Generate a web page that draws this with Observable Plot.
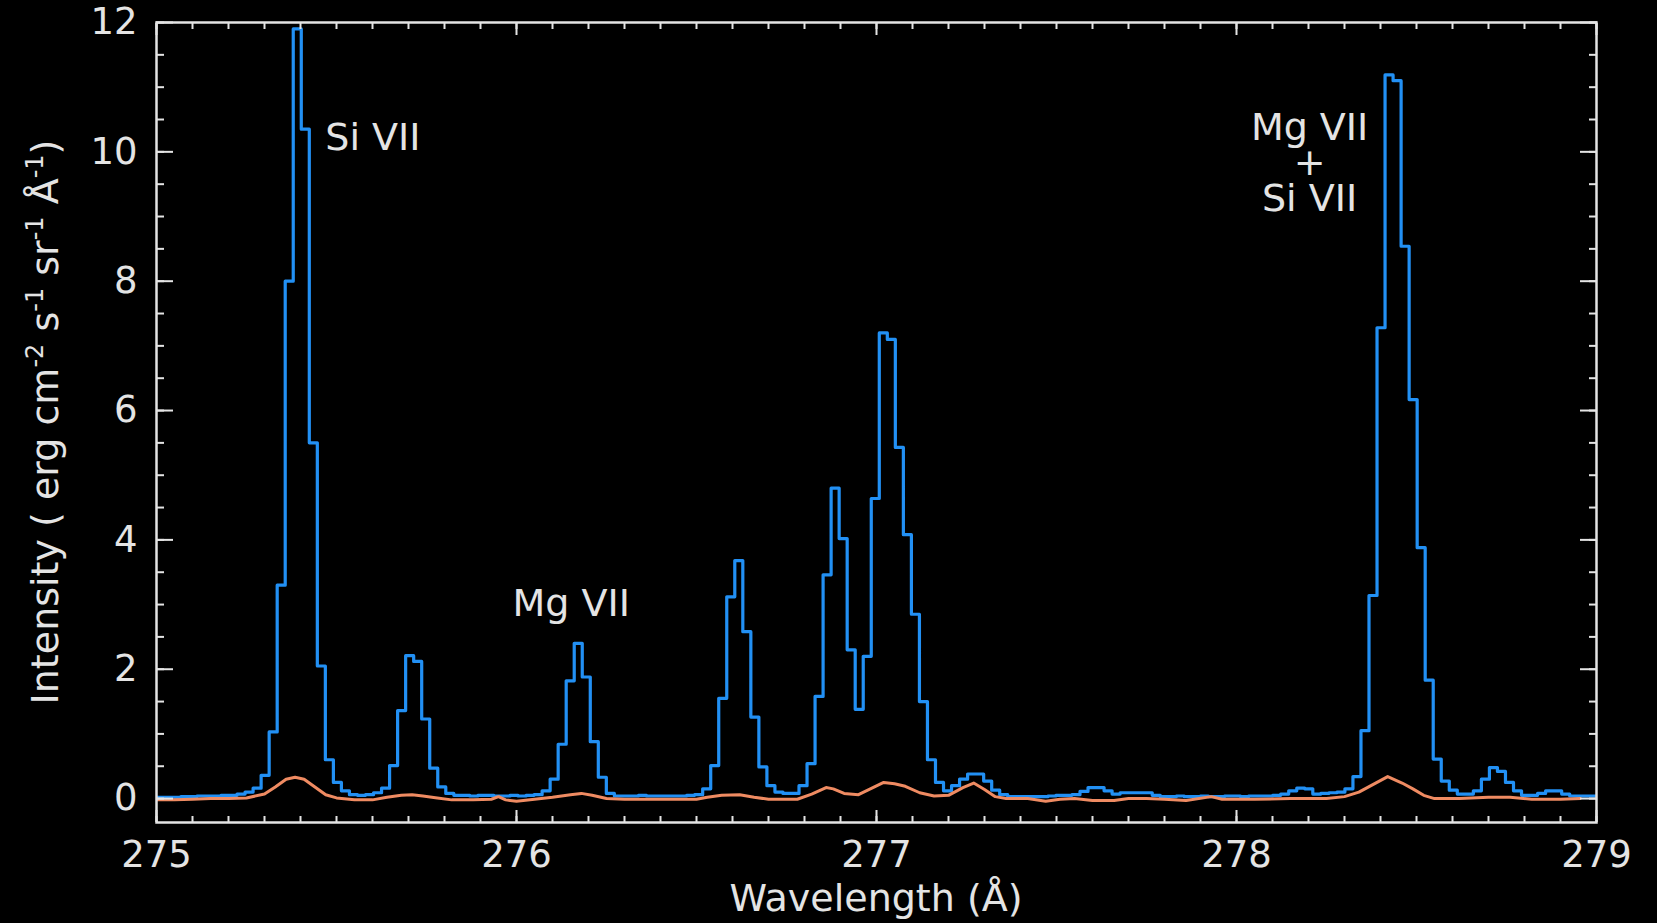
<!DOCTYPE html>
<html>
<head>
<meta charset="utf-8">
<script src="https://cdn.jsdelivr.net/npm/d3@7"></script>
<script src="https://cdn.jsdelivr.net/npm/@observablehq/plot@0.6"></script>
<style>
  html, body { margin: 0; padding: 0; background: #000; overflow: hidden; }
  #chart { width: 1657px; height: 923px; }
</style>
</head>
<body>
<div id="chart"></div>
<script>
// ---------- DATA ----------
// Spectral bin centres (Å)
const binWavelength = [
  274.9896,275.0119,275.0342,275.0565,275.0788,275.1011,275.1234,275.1457,275.1680,275.1903,
  275.2126,275.2349,275.2572,275.2795,275.3018,275.3241,275.3464,275.3687,275.3910,275.4133,
  275.4356,275.4579,275.4802,275.5025,275.5248,275.5471,275.5694,275.5917,275.6140,275.6363,
  275.6586,275.6809,275.7032,275.7255,275.7478,275.7701,275.7924,275.8147,275.8370,275.8593,
  275.8816,275.9039,275.9262,275.9485,275.9708,275.9931,276.0154,276.0377,276.0600,276.0823,
  276.1046,276.1269,276.1492,276.1715,276.1938,276.2161,276.2384,276.2607,276.2830,276.3053,
  276.3276,276.3499,276.3722,276.3945,276.4168,276.4391,276.4614,276.4837,276.5060,276.5283,
  276.5506,276.5729,276.5952,276.6175,276.6398,276.6621,276.6844,276.7067,276.7290,276.7513,
  276.7736,276.7959,276.8182,276.8405,276.8628,276.8851,276.9074,276.9297,276.9520,276.9743,
  276.9966,277.0189,277.0412,277.0635,277.0858,277.1081,277.1304,277.1527,277.1750,277.1973,
  277.2196,277.2419,277.2642,277.2865,277.3088,277.3311,277.3534,277.3757,277.3980,277.4203,
  277.4426,277.4649,277.4872,277.5095,277.5318,277.5541,277.5764,277.5987,277.6210,277.6433,
  277.6656,277.6879,277.7102,277.7325,277.7548,277.7771,277.7994,277.8217,277.8440,277.8663,
  277.8886,277.9109,277.9332,277.9555,277.9778,278.0001,278.0224,278.0447,278.0670,278.0893,
  278.1116,278.1339,278.1562,278.1785,278.2008,278.2231,278.2454,278.2677,278.2900,278.3123,
  278.3346,278.3569,278.3792,278.4015,278.4238,278.4461,278.4684,278.4907,278.5130,278.5353,
  278.5576,278.5799,278.6022,278.6245,278.6468,278.6691,278.6914,278.7137,278.7360,278.7583,
  278.7806,278.8029,278.8252,278.8475,278.8698,278.8921,278.9144,278.9367,278.9590,278.9813,
  279.0036
];
// Blue spectrum intensity per bin (erg cm^-2 s^-1 sr^-1 Å^-1)
const blueIntensity = [
  0.02,0.02,0.02,0.02,0.03,0.03,0.04,0.04,0.04,0.05,
  0.05,0.07,0.10,0.16,0.36,1.03,3.30,8.00,11.90,10.35,
  5.50,2.05,0.60,0.25,0.12,0.06,0.05,0.06,0.09,0.16,
  0.51,1.36,2.21,2.12,1.23,0.47,0.18,0.08,0.05,0.05,
  0.04,0.05,0.05,0.04,0.04,0.05,0.04,0.05,0.06,0.12,
  0.30,0.84,1.82,2.40,1.88,0.88,0.33,0.08,0.04,0.04,
  0.04,0.05,0.04,0.04,0.04,0.04,0.04,0.05,0.06,0.15,
  0.51,1.55,3.12,3.68,2.58,1.26,0.49,0.20,0.10,0.08,
  0.08,0.20,0.54,1.58,3.46,4.80,4.02,2.30,1.38,2.20,
  4.64,7.20,7.10,5.43,4.08,2.85,1.50,0.60,0.25,0.12,
  0.20,0.30,0.38,0.38,0.27,0.13,0.06,0.03,0.03,0.03,
  0.03,0.03,0.04,0.05,0.05,0.06,0.11,0.17,0.17,0.12,
  0.07,0.09,0.09,0.09,0.09,0.05,0.03,0.03,0.04,0.03,
  0.03,0.04,0.03,0.03,0.04,0.04,0.03,0.04,0.04,0.04,
  0.05,0.07,0.12,0.16,0.15,0.07,0.08,0.09,0.10,0.15,
  0.34,1.05,3.14,7.28,11.19,11.10,8.54,6.17,3.88,1.83,
  0.61,0.27,0.13,0.07,0.07,0.12,0.30,0.48,0.42,0.25,
  0.12,0.05,0.05,0.08,0.12,0.12,0.07,0.04,0.04,0.04,
  0.04
];
// Orange spectrum
const orangeWavelength = [
  274.99,275.05,275.10,275.15,275.20,275.25,275.30,275.33,275.36,275.385,
  275.41,275.44,275.47,275.50,275.55,275.60,275.64,275.68,275.71,275.74,
  275.78,275.82,275.88,275.93,275.95,275.97,276.00,276.05,276.10,276.15,
  276.18,276.21,276.25,276.30,276.40,276.50,276.53,276.57,276.62,276.66,
  276.70,276.78,276.82,276.86,276.88,276.91,276.95,276.99,277.02,277.05,
  277.08,277.12,277.16,277.20,277.24,277.27,277.30,277.33,277.36,277.42,
  277.47,277.51,277.55,277.60,277.66,277.70,277.75,277.80,277.86,277.93,
  277.96,278.05,278.15,278.25,278.30,278.34,278.38,278.42,278.46,278.49,
  278.52,278.55,278.62,278.70,278.76,278.82,278.90,278.955
];
const orangeIntensity = [
  -0.02,-0.02,-0.01,0.00,0.00,0.01,0.07,0.18,0.30,0.33,
  0.30,0.18,0.06,0.01,-0.02,-0.02,0.02,0.05,0.06,0.04,
  0.01,-0.02,-0.02,-0.01,0.03,-0.02,-0.04,-0.01,0.02,0.06,
  0.08,0.05,0.00,-0.01,-0.01,-0.01,0.02,0.05,0.06,0.02,
  -0.01,-0.01,0.07,0.17,0.15,0.08,0.06,0.17,0.25,0.23,
  0.19,0.09,0.04,0.05,0.17,0.24,0.14,0.03,0.00,0.00,
  -0.04,-0.01,0.00,-0.03,-0.03,0.00,0.00,-0.01,-0.03,0.03,
  -0.01,-0.01,0.00,0.00,0.03,0.10,0.22,0.34,0.24,0.15,
  0.05,0.00,0.00,0.02,0.02,-0.01,-0.01,0.00
];
// Line identifications (the blended line is one three-line label)
const lineLabels = ["Si VII", "Mg VII", "Mg VII\n+\nSi VII"];
const lineLabelWavelength = [275.469, 276.152, 278.203];
const lineLabelIntensity = [10.22, 3.0, 9.81];
const lineLabelAnchor = ["start", "middle", "middle"];
// Axes
const xTickLabels = [275, 276, 277, 278, 279];
const yTickLabels = [0, 2, 4, 6, 8, 10, 12];
const xMinorTicks = d3.range(275, 279.001, 0.1).map(v => +v.toFixed(1));
const yMinorTicks = d3.range(0, 12.001, 0.5);

// ---------- STYLE ----------
const BLUE = "#2290f4";
const ORANGE = "#ef8b62";
const INK = "#e4e4e4";
const FONT = "DejaVu Sans, sans-serif";
const FS_TICK = 37;
const FS_TEXT = 38;

const blueData = binWavelength.map((w, i) => ({w, v: blueIntensity[i]}));
const orangeData = orangeWavelength.map((w, i) => ({w, v: orangeIntensity[i]}));
const labelData = lineLabels.map((t, i) => ({t, w: lineLabelWavelength[i], v: lineLabelIntensity[i], a: lineLabelAnchor[i]}));

const noText = () => "";
const tickStyle = {stroke: INK, strokeWidth: 2, label: null};

const plot = Plot.plot({
  width: 1657,
  height: 923,
  marginLeft: 156,
  marginRight: 61,
  marginTop: 22,
  marginBottom: 101,
  style: {background: "#000", color: INK, fontFamily: FONT, fontSize: FS_TICK + "px"},
  x: {domain: [275, 279]},
  y: {domain: [-0.37, 12]},
  marks: [
    Plot.line(blueData, {x: "w", y: "v", curve: "step", stroke: BLUE, strokeWidth: 3.2, clip: true}),
    Plot.line(orangeData, {x: "w", y: "v", stroke: ORANGE, strokeWidth: 3, clip: true}),
    // inward ticks on all four sides
    Plot.axisX(xMinorTicks, {anchor: "bottom", tickSize: -6, tickFormat: noText, ...tickStyle}),
    Plot.axisX(xTickLabels, {anchor: "bottom", tickSize: -12, tickFormat: noText, ...tickStyle}),
    Plot.axisX(xMinorTicks, {anchor: "top", tickSize: -6, tickFormat: noText, ...tickStyle}),
    Plot.axisX(xTickLabels, {anchor: "top", tickSize: -12, tickFormat: noText, ...tickStyle}),
    Plot.axisY(yMinorTicks, {anchor: "left", tickSize: -8, tickFormat: noText, ...tickStyle}),
    Plot.axisY(yTickLabels, {anchor: "left", tickSize: -17, tickFormat: noText, ...tickStyle}),
    Plot.axisY(yMinorTicks, {anchor: "right", tickSize: -8, tickFormat: noText, ...tickStyle}),
    Plot.axisY(yTickLabels, {anchor: "right", tickSize: -17, tickFormat: noText, ...tickStyle}),
    // tick labels
    Plot.axisX(xTickLabels, {anchor: "bottom", tickSize: 0, tickPadding: 18, fontSize: FS_TICK, fill: INK, label: null, tickFormat: d => String(d)}),
    Plot.axisY(yTickLabels, {anchor: "left", tickSize: 0, tickPadding: 19, fontSize: FS_TICK, fill: INK, label: null, tickFormat: d => String(d)}),
    Plot.frame({stroke: INK, strokeWidth: 2.5}),
    Plot.text(labelData.filter(d => d.a === "start"), {x: "w", y: "v", text: "t", textAnchor: "start", lineAnchor: "middle", fill: INK, fontSize: FS_TEXT}),
    Plot.text(labelData.filter(d => d.a === "middle"), {x: "w", y: "v", text: "t", textAnchor: "middle", lineAnchor: "middle", lineHeight: 0.93, fill: INK, fontSize: FS_TEXT})
  ]
});

document.getElementById("chart").appendChild(plot);

// axis titles
const svg = d3.select(plot);
const xr = plot.scale("x").range;
const yr = plot.scale("y").range;
svg.append("text")
  .attr("x", (xr[0] + xr[1]) / 2)
  .attr("y", 898)
  .attr("dy", "0.35em")
  .attr("text-anchor", "middle")
  .attr("fill", INK)
  .attr("font-family", FONT)
  .attr("font-size", FS_TEXT)
  .text("Wavelength (Å)");

const yl = svg.append("text")
  .attr("transform", `translate(58,${(yr[0] + yr[1]) / 2}) rotate(-90)`)
  .attr("text-anchor", "middle")
  .attr("fill", INK)
  .attr("font-family", FONT)
  .attr("font-size", FS_TEXT);
const parts = [["Intensity ( erg cm", false], ["-2", true], [" s", false], ["-1", true], [" sr", false], ["-1", true], [" Å", false], ["-1", true], [")", false]];
parts.forEach(([t, sup], i) => {
  const ts = yl.append("tspan").text(t);
  if (sup) ts.attr("font-size", 24).attr("dy", -15);
  else if (i > 0) ts.attr("dy", 15);
});
</script>
</body>
</html>
